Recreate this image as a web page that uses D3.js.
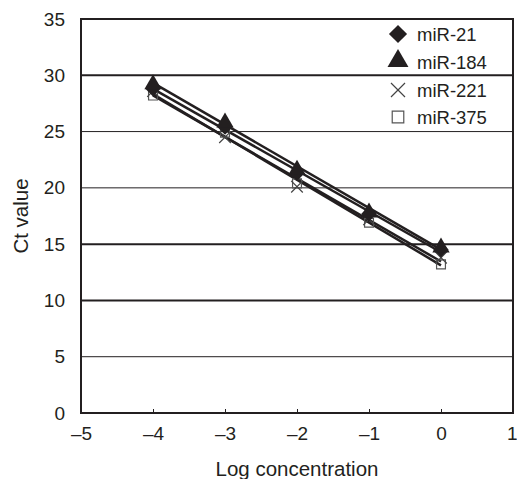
<!DOCTYPE html>
<html><head><meta charset="utf-8">
<script src="https://cdn.jsdelivr.net/npm/d3@7"></script>
<style>body{margin:0;background:#fff;} svg{display:block;} text{font-family:"Liberation Sans",Arial,sans-serif;fill:#231f20;}</style>
</head><body>
<script>
const logConc = [-4, -3, -2, -1, 0];
const miR21  = [28.8, 25.4, 21.3, 17.7, 14.5];
const miR184 = [29.3, 25.9, 21.7, 17.9, 14.8];
const miR221 = [28.6, 24.5, 20.1, 17.2, 13.8];
const miR375 = [28.2, 24.9, 20.4, 16.9, 13.2];
const seriesNames = ["miR-21", "miR-184", "miR-221", "miR-375"];
const xTicks = [-5, -4, -3, -2, -1, 0, 1];
const yTicks = [0, 5, 10, 15, 20, 25, 30, 35];

const W = 517, H = 479;
const m = {l: 81, r: 4, t: 19, b: 66};
const svg = d3.select("body").append("svg").attr("width", W).attr("height", H);
const x = d3.scaleLinear().domain([-5, 1]).range([m.l, W - m.r]);
const y = d3.scaleLinear().domain([0, 35]).range([H - m.b, m.t]);
const ink = "#231f20";
const FS = 19, FT = 20.5, FL = 18.5;

// gridlines
const thick = new Set([30, 15, 10]);
svg.append("g").selectAll("line").data(yTicks.filter(d => d > 0 && d < 35)).join("line")
  .attr("x1", x(-5)).attr("x2", x(1)).attr("y1", d => y(d)).attr("y2", d => y(d))
  .attr("stroke", ink).attr("stroke-width", d => thick.has(d) ? 2 : 1);

// axes
const fmt = d => d < 0 ? "\u2013" + Math.abs(d) : String(d);
const xa = svg.append("g").attr("transform", `translate(0,${y(0)})`)
  .call(d3.axisBottom(x).tickValues(xTicks).tickFormat(fmt).tickSizeInner(-4).tickSizeOuter(0).tickPadding(14));
xa.select(".domain").remove();
xa.selectAll("line").attr("stroke", ink);
xa.selectAll("text").attr("font-size", FS).attr("fill", ink);
xa.selectAll(".tick").filter(d => d === 1).select("text").attr("text-anchor", "end").attr("dx", 4);
const ya = svg.append("g").attr("transform", `translate(${x(-5)},0)`)
  .call(d3.axisLeft(y).tickValues(yTicks).tickSizeInner(0).tickSizeOuter(0).tickPadding(16));
ya.select(".domain").remove();
ya.selectAll("text").attr("font-size", FS).attr("fill", ink);

// border
svg.append("rect").attr("x", x(-5)).attr("y", y(35)).attr("width", x(1) - x(-5)).attr("height", y(0) - y(35))
  .attr("fill", "none").attr("stroke", ink).attr("stroke-width", 2);

// titles
svg.append("text").attr("x", (x(-5) + x(1)) / 2).attr("y", 476).attr("text-anchor", "middle")
  .attr("font-size", FT).text("Log concentration");
svg.append("text").attr("transform", `translate(28,${(y(0) + y(35)) / 2}) rotate(-90)`).attr("text-anchor", "middle")
  .attr("font-size", FT).text("Ct value");

const series = [miR21, miR184, miR221, miR375];
const symbols = [d3.symbolDiamond2, d3.symbolTriangle, d3.symbolTimes, d3.symbolSquare2];
const sizes = [150, 130, 90, 100];
const legSizes = [210, 190, 130, 170];

// regression lines
function fit(xs, ys) {
  const mx = d3.mean(xs), my = d3.mean(ys);
  const b = d3.sum(xs, (v, i) => (v - mx) * (ys[i] - my)) / d3.sum(xs, v => (v - mx) ** 2);
  return [b, my - b * mx];
}
series.forEach(s => {
  const [b, a] = fit(logConc, s);
  svg.append("line").attr("x1", x(-4)).attr("x2", x(0)).attr("y1", y(a + b * -4)).attr("y2", y(a))
    .attr("stroke", ink).attr("stroke-width", 2.5);
});

// markers
function drawSym(g, i, cx, cy, sz) {
  const p = d3.symbol().type(symbols[i]).size(sz)();
  const el = g.append("path").attr("d", p).attr("transform", `translate(${cx},${cy + (i === 1 ? 1 : 0)})`);
  if (i === 0 || i === 1) el.attr("fill", ink).attr("stroke", "none");
  else if (i === 2) el.attr("fill", "none").attr("stroke", "#444").attr("stroke-width", 1.2);
  else el.attr("fill", "none").attr("stroke", "#555").attr("stroke-width", 1.2);
}
const mg = svg.append("g");
[3, 2, 0, 1].forEach(i => {
  series[i].forEach((v, j) => drawSym(mg, i, x(logConc[j]), y(v), sizes[i]));
});

// legend
const legY = [34, 62, 90, 117];
seriesNames.forEach((n, i) => {
  drawSym(svg, i, 398, legY[i] - (i === 1 ? 2 : 0), legSizes[i]);
  svg.append("text").attr("x", 417).attr("y", legY[i] + 7).attr("font-size", FL).text(n);
});
</script>
</body></html>
